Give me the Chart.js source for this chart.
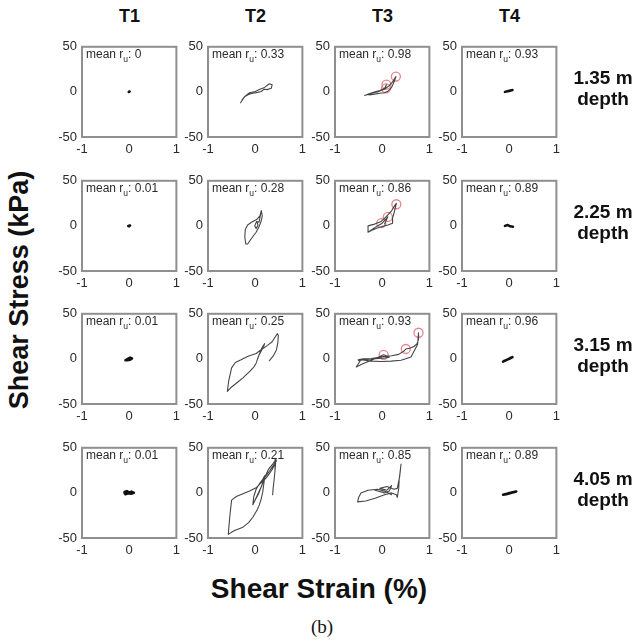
<!DOCTYPE html>
<html>
<head>
<meta charset="utf-8">
<title>Shear stress vs shear strain</title>
<script src="https://cdn.jsdelivr.net/npm/chart.js@4.4.1/dist/chart.umd.min.js"></script>
<style>
	html, body { margin: 0; padding: 0; background: #fff; }
	#wrap { position: relative; width: 641px; height: 642px; overflow: hidden; font-family: 'Liberation Sans', Arial, Helvetica, sans-serif; color: #111; }
	#wrap canvas { position: absolute; }
	.lbl { position: absolute; white-space: nowrap; font-weight: bold; }
	.test { font-size: 18px; width: 60px; text-align: center; top: 6px; }
	.depth { font-size: 19px; width: 80px; text-align: center; line-height: 21px; left: 563px; }
	#ylab { font-size: 27px; left: 19px; top: 290px; transform: translate(-50%, -50%) rotate(-90deg); }
	#xlab { font-size: 28px; left: 319px; top: 589px; transform: translate(-50%, -50%); }
	#cap { position: absolute; font-family: 'Liberation Serif', 'Times New Roman', serif; font-size: 19px; left: 322px; top: 627px; transform: translate(-50%, -50%); }
</style>
</head>
<body>
<div id="wrap">
	<div class="lbl" id="ylab">Shear Stress (kPa)</div>
	<div class="lbl" id="xlab">Shear Strain (%)</div>
	<div id="cap">(b)</div>
</div>
<script>
(function() {
	'use strict';

	// columns / rows
	var tests = ['T1', 'T2', 'T3', 'T4'];
	var depths = ['1.35 m', '2.25 m', '3.15 m', '4.05 m'];

	// mean r_u for each test, top to bottom
	var ruT1 = [0, 0.01, 0.01, 0.01];
	var ruT2 = [0.33, 0.28, 0.25, 0.21];
	var ruT3 = [0.98, 0.86, 0.93, 0.85];
	var ruT4 = [0.93, 0.89, 0.96, 0.89];

	var xTicks = [-1, 0, 1];
	var yTicks = [-50, 0, 50];

	// T1 (strain %, stress kPa)
	var t1d1Strain = [-0.01, 0.01, 0.0];
	var t1d1Stress = [0, 0.5, 0];
	var t1d2Strain = [-0.02, 0.02, 0.0];
	var t1d2Stress = [0, 0.5, -0.5];
	var t1d3Strain = [-0.08, -0.03, 0.02, 0.06, 0.02, -0.04, -0.08];
	var t1d3Stress = [-1.5, 0, 1.5, 0.5, -1, -1.5, -1.5];
	var t1d4Strain = [-0.1, -0.05, 0, 0.05, 0.1, 0.04, -0.02, -0.08, -0.1];
	var t1d4Stress = [1, 2, 0.5, 1.5, 0, -1, -0.5, -1.5, 0];

	// T2
	var t2d1Strain = [-0.31, -0.22, -0.12, 0, 0.1, 0.2, 0.3, 0.36, 0.34, 0.25, 0.19, 0.13, 0.05, -0.05, -0.13, -0.22, -0.28];
	var t2d1Stress = [-12, -5, -1, 0.5, 3, 5, 9, 8, 4, 2.5, 3, 0.5, -0.5, -1.5, -2.5, -5, -9];
	var t2d2Strain = [0.13, 0.1, 0.03, -0.08, -0.16, -0.21, -0.22, -0.2, -0.16, -0.08, 0.02, 0.09, 0.13, 0.15, 0.13, 0.08, 0.03, -0.01, 0.02, 0.06, 0.04];
	var t2d2Stress = [17, 11, 7, 4, 1, -4, -12, -20, -20, -14, -7, 0, 6, 11, 17, 4, 5, 0, -3, 1, 4];
	var t2d3Strain = [0.03, -0.03, -0.12, -0.26, -0.4, -0.52, -0.59, -0.56, -0.5, -0.42, -0.3, -0.15, 0.02, 0.12, 0.18, 0.2, 0.14, 0.08, 0.03, 0.07, 0.15, 0.26, 0.36, 0.42, 0.47, 0.49, 0.48, 0.45, 0.38, 0.3];
	var t2d3Stress = [-4, -9, -14, -21, -27, -32, -36, -24, -10, -4, -1, 3, 6, 10, 14, 17, 12, 4, -3, 3, 11, 15, 19, 24, 28, 26, 18, 10, 3, -2];
	var t2d4Strain = [-0.05, -0.03, 0.02, 0.1, 0.16, 0.2, 0.15, 0.08, 0.0, -0.05, 0.05, 0.14, 0.2, 0.3, 0.38, 0.45, 0.36, 0.24, 0.12, 0.03, -0.12, -0.26, -0.4, -0.5, -0.54, -0.57, -0.45, -0.26, -0.14, -0.05, 0.04, 0.09, 0.13, 0.16, 0.2, 0.28, 0.37, 0.44, 0.42, 0.4, 0.38, 0.37];
	var t2d4Stress = [-13, -4, 4, 11, 15, 19, 10, 0, -8, -13, -2, 8, 17, 24, 30, 36, 26, 17, 11, 6, 2, -1, -4, -8, -27, -46, -42, -38, -33, -27, -19, -13, -6, 1, 17, 26, 32, 37, 25, 14, 5, -2];

	// T3
	var t3d1Strain = [-0.37, -0.28, -0.15, -0.05, 0.05, 0.09, 0.07, 0.0, -0.1, -0.2, -0.3, -0.37, -0.25, -0.1, 0.05, 0.15, 0.22, 0.29, 0.26, 0.2, 0.13, 0.05, -0.05, -0.16, -0.28];
	var t3d1Stress = [-4, -2, 0, 1.5, 4, 8, 5, 2, 0, -1, -2.5, -4, -2, 0.5, 3, 7, 11, 17, 12, 5, 1, -1, -1.5, -2.5, -3.5];
	var t3d2Strain = [-0.3, -0.3, -0.16, -0.02, 0.08, 0.19, 0.27, 0.3, 0.26, 0.22, 0.22, 0.12, 0.05, -0.09, -0.23, -0.3, -0.1, 0.0, 0.12, 0.05];
	var t3d2Stress = [-7, 0, 2, 5, 10, 16, 23, 25, 16, 9, 3, 1, 0, -2, -5, -7, 0, 3, 10, 2];
	var t3d3Strain = [-0.51, -0.4, -0.23, 0.03, 0.2, 0.35, 0.47, 0.5, 0.6, 0.68, 0.74, 0.77, 0.77, 0.75, 0.61, 0.4, 0.19, -0.02, -0.23, -0.45, -0.55, -0.4, -0.2, 0.03, 0.15, 0.05, -0.2, -0.4, -0.5];
	var t3d3Stress = [-1, 0, 0.5, 2.5, 3.5, 5, 9, 11, 12, 14, 17, 22, 29, 16, 2, -1.5, -2.5, -2.8, -2.5, -1, -9, -5, -1, 4.5, 2, 1, 0, -1, -2];
	var t3d4Strain = [0.2, 0.05, -0.1, -0.3, -0.45, -0.5, -0.52, -0.35, -0.15, 0.05, 0.2, 0.3, 0.32, 0.35, 0.36, 0.4, 0.37, 0.32, 0.25, 0.1, -0.05, 0.1, 0.2, 0.15, 0.05, -0.15];
	var t3d4Stress = [-2, 2, 4, 3, 0, -5, -10, -9, -6, -2, 0, -2, -5, 5, 15, 32, 18, 5, 4, 7, 5, 3, 8, 2, 0, 3];

	// T3 marked peaks (red circles)
	var t3d1PeakStrain = [0.29, 0.09, 0.08];
	var t3d1PeakStress = [17, 8, 4];
	var t3d2PeakStrain = [0.3, 0.12, -0.02];
	var t3d2PeakStress = [24, 10, 3];
	var t3d3PeakStrain = [0.77, 0.5, 0.03];
	var t3d3PeakStress = [29, 11, 4.5];

	// T4
	var t4d1Strain = [-0.09, -0.02, 0.07, 0.0, -0.09];
	var t4d1Stress = [0, 1, 2, 1, 0];
	var t4d2Strain = [-0.09, -0.03, 0.02, 0.08];
	var t4d2Stress = [0, 1, -0.5, -1];
	var t4d3Strain = [-0.13, -0.05, 0.02, 0.07, 0.0, -0.12];
	var t4d3Stress = [-3, -1, 1, 2, 0, -2.5];
	var t4d4Strain = [-0.13, -0.05, 0.05, 0.15, 0.05, -0.06, -0.13];
	var t4d4Stress = [-2, -1, 0.5, 1.5, 0, -1.5, -2];

	var panels = [
		[
			{ x: t1d1Strain, y: t1d1Stress, ru: ruT1[0], bold: true },
			{ x: t2d1Strain, y: t2d1Stress, ru: ruT2[0] },
			{ x: t3d1Strain, y: t3d1Stress, ru: ruT3[0], px: t3d1PeakStrain, py: t3d1PeakStress },
			{ x: t4d1Strain, y: t4d1Stress, ru: ruT4[0], bold: true }
		],
		[
			{ x: t1d2Strain, y: t1d2Stress, ru: ruT1[1], bold: true },
			{ x: t2d2Strain, y: t2d2Stress, ru: ruT2[1] },
			{ x: t3d2Strain, y: t3d2Stress, ru: ruT3[1], px: t3d2PeakStrain, py: t3d2PeakStress },
			{ x: t4d2Strain, y: t4d2Stress, ru: ruT4[1], bold: true }
		],
		[
			{ x: t1d3Strain, y: t1d3Stress, ru: ruT1[2], bold: true },
			{ x: t2d3Strain, y: t2d3Stress, ru: ruT2[2] },
			{ x: t3d3Strain, y: t3d3Stress, ru: ruT3[2], px: t3d3PeakStrain, py: t3d3PeakStress },
			{ x: t4d3Strain, y: t4d3Stress, ru: ruT4[2], bold: true }
		],
		[
			{ x: t1d4Strain, y: t1d4Stress, ru: ruT1[3], bold: true },
			{ x: t2d4Strain, y: t2d4Stress, ru: ruT2[3] },
			{ x: t3d4Strain, y: t3d4Stress, ru: ruT3[3] },
			{ x: t4d4Strain, y: t4d4Stress, ru: ruT4[3], bold: true }
		]
	];

	// layout of the small axes
	var colLeft = [82, 208, 335, 462];
	var rowTop = [42, 176, 309, 443];
	var boxSize = 95;
	var yAxisW = 30, xAxisH = 20, padTop = 8, padRight = 8;
	var fontFam = "'Liberation Sans', Arial, Helvetica, sans-serif";

	var wrap = document.getElementById('wrap');

	function toPoints(xs, ys) {
		var pts = [];
		for (var i = 0; i < xs.length; i++) {
			pts.push({ x: xs[i], y: ys[i] });
		}
		return pts;
	}

	// box frame + "mean r_u" note
	var framePlugin = {
		id: 'frameNote',
		afterDraw: function(chart) {
			var a = chart.chartArea;
			var ctx = chart.ctx;
			ctx.save();
			ctx.strokeStyle = '#8f8f8f';
			ctx.lineWidth = 2;
			ctx.strokeRect(a.left, a.top, a.right - a.left, a.bottom - a.top);

			var ru = chart.options.plugins.frameNote.ru;
			var x = a.left + 4, y = a.top + 8;
			ctx.fillStyle = '#2a2a2a';
			ctx.textBaseline = 'middle';
			ctx.textAlign = 'left';
			ctx.font = '12px ' + fontFam;
			ctx.fillText('mean r', x, y);
			x += ctx.measureText('mean r').width;
			ctx.font = '8.5px ' + fontFam;
			ctx.fillText('u', x, y + 5);
			x += ctx.measureText('u').width;
			ctx.font = '12px ' + fontFam;
			ctx.fillText(': ' + String(ru), x, y);
			ctx.restore();
		}
	};

	function makePanel(r, c, p) {
		var cv = document.createElement('canvas');
		var w = yAxisW + boxSize + padRight;
		var h = padTop + boxSize + xAxisH;
		cv.width = w;
		cv.height = h;
		cv.style.left = (colLeft[c] - yAxisW) + 'px';
		cv.style.top = (rowTop[r] - padTop) + 'px';
		wrap.appendChild(cv);

		var datasets = [{
			data: toPoints(p.x, p.y),
			showLine: true,
			borderColor: p.bold ? '#111' : '#454545',
			borderWidth: p.bold ? 2.5 : 1.1,
			borderJoinStyle: 'round',
			borderCapStyle: 'round',
			pointRadius: 0,
			tension: 0
		}];
		if (p.px) {
			datasets.push({
				data: toPoints(p.px, p.py),
				showLine: false,
				pointRadius: 4.5,
				pointBorderWidth: 1.3,
				pointBorderColor: '#e5868b',
				pointBackgroundColor: 'rgba(255,255,255,0)'
			});
		}

		var tickFont = { family: fontFam, size: 13 };

		new Chart(cv, {
			type: 'scatter',
			data: { datasets: datasets },
			options: {
				responsive: false,
				animation: false,
				layout: { padding: { top: padTop, right: padRight, left: 0, bottom: 0 } },
				plugins: {
					legend: { display: false },
					tooltip: { enabled: false },
					frameNote: { ru: p.ru }
				},
				scales: {
					x: {
						type: 'linear',
						min: xTicks[0],
						max: xTicks[xTicks.length - 1],
						afterBuildTicks: function(s) { s.ticks = xTicks.map(function(v) { return { value: v }; }); },
						afterFit: function(s) { s.height = xAxisH; },
						ticks: { padding: 5, color: '#2a2a2a', font: tickFont, maxRotation: 0 },
						grid: { display: false, drawTicks: false },
						border: { display: false }
					},
					y: {
						type: 'linear',
						min: yTicks[0],
						max: yTicks[yTicks.length - 1],
						afterBuildTicks: function(s) { s.ticks = yTicks.map(function(v) { return { value: v }; }); },
						afterFit: function(s) { s.width = yAxisW; },
						ticks: { padding: 5, color: '#2a2a2a', font: tickFont },
						grid: { display: false, drawTicks: false },
						border: { display: false }
					}
				}
			},
			plugins: [framePlugin]
		});
	}

	for (var r = 0; r < panels.length; r++) {
		for (var c = 0; c < panels[r].length; c++) {
			makePanel(r, c, panels[r][c]);
		}
	}

	// column titles
	tests.forEach(function(t, c) {
		var d = document.createElement('div');
		d.className = 'lbl test';
		d.textContent = t;
		d.style.left = (colLeft[c] + boxSize / 2 - 30) + 'px';
		wrap.appendChild(d);
	});

	// depth labels on the right
	depths.forEach(function(dp, r) {
		var d = document.createElement('div');
		d.className = 'lbl depth';
		d.innerHTML = dp + '<br>depth';
		d.style.top = (rowTop[r] + boxSize / 2 - 23) + 'px';
		wrap.appendChild(d);
	});

})();
</script>
</body>
</html>
